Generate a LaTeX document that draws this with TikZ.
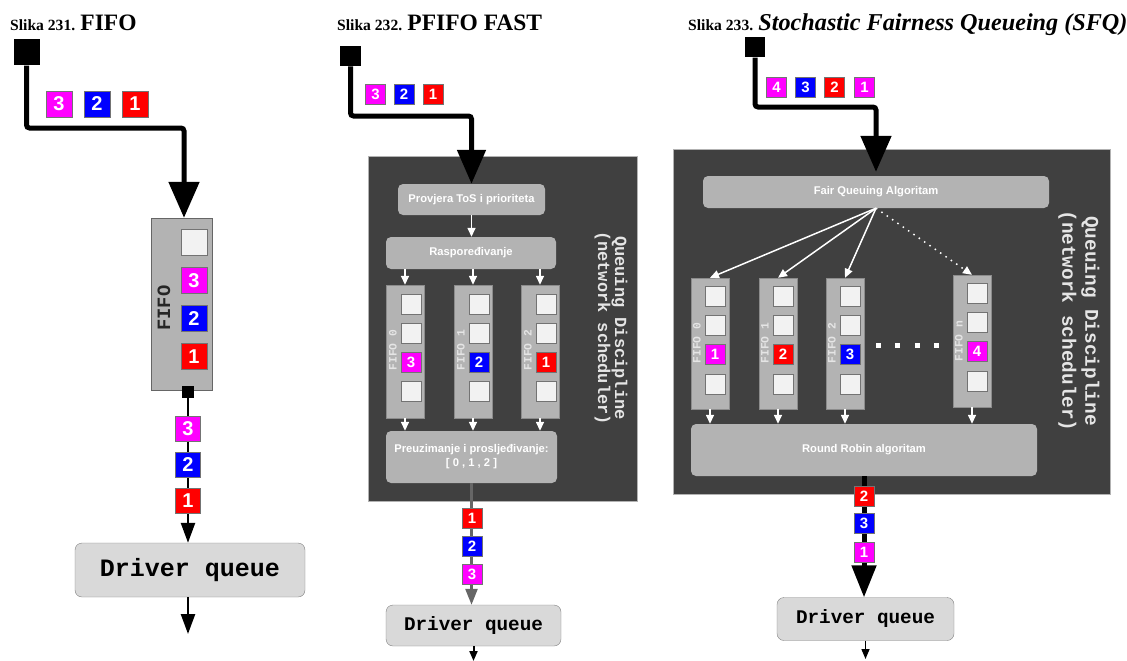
\documentclass[tikz,border=0pt]{standalone}
\usepackage{fontspec}
\setmainfont{Liberation Serif}
\setsansfont{Liberation Sans}
\setmonofont{Liberation Mono}
\usetikzlibrary{arrows.meta,positioning}
\newcommand\fsz[1]{\fontsize{#1}{#1}\selectfont}
\definecolor{pmag}{HTML}{FF00FF}
\definecolor{pblue}{HTML}{0000FF}
\definecolor{pred}{HTML}{FF0000}
\definecolor{slotc}{HTML}{F2F2F2}
\definecolor{boxgray}{HTML}{B3B3B3}
\definecolor{darkbg}{HTML}{404040}
\definecolor{drvc}{HTML}{D9D9D9}
\tikzset{
  src/.style={fill=black,inner sep=0,minimum size=#1},
  pkt/.style={draw=black!55,text=white,inner sep=0,minimum size=26pt,font=\sffamily\bfseries\fsz{20}},
  spkt/.style={pkt,minimum size=20pt,font=\sffamily\bfseries\fsz{15}},
  slot/.style={draw=black!55,fill=slotc,inner sep=0,minimum size=#1},
  col/.style={draw=black!45,fill=boxgray,inner sep=0,minimum width=38pt},
  qdisc/.style={draw=black!30,fill=darkbg,inner sep=0},
  algo/.style={fill=boxgray,rounded corners=5pt,inner sep=0,text=white,font=\sffamily\bfseries\fontsize{11.2}{14}\selectfont},
  drvq/.style={draw=black!50,fill=drvc,rounded corners=7pt,inner sep=0},
  wire/.style={line width=5pt,rounded corners=3pt},
  warrow/.style={draw=white,line width=1.5pt,-{Triangle[width=8pt,length=9pt]}},
  flabel/.style={rotate=90,text=black!10,font=\ttfamily\bfseries\fsz{11.3}},
  qlabel/.style={rotate=-90,align=center,text=black!10},
}
\begin{document}
\begin{tikzpicture}[x=1pt,y=-1pt]
\useasboundingbox (0,0) rectangle (1127,661);
% FIFO
\node[anchor=base west,inner sep=0] (t1) at (10,31) {\bfseries\fsz{15.6}Slika 231. {\fsz{23.5}FIFO}};
\node[src=26pt] (s1) at (26.5,52.5) {};
\coordinate (c1) at (184,128);
\node[draw=black!60,fill=boxgray,minimum width=61pt,minimum height=172pt] (fifo) at (181.5,304) {};
\draw[wire,-{Triangle[width=30pt,length=36pt]}] (s1.south) |- (c1) -- (c1 |- fifo.north);
\node[pkt,fill=pmag] (p13) at (59,104) {3};
\node[pkt,fill=pblue] (p12) at (97,104) {2};
\node[pkt,fill=pred] (p11) at (135,104) {1};
\node[slot=26pt] (q10) at (194,242.5) {};
\node[pkt,fill=pmag] (q13) at (194,280.5) {3};
\node[pkt,fill=pblue] (q12) at (194,318.5) {2};
\node[pkt,fill=pred] (q11) at (194,356.5) {1};
\node[rotate=90,text=black!85,font=\ttfamily\bfseries\fsz{18.8}] (fl1) at (164,308) {FIFO};
\node[src=12pt] (k1) at (188,391.5) {};
\node[drvq,minimum width=230pt,minimum height=54pt,font=\ttfamily\bfseries\fsz{25}] (dq1) at (190,570) {Driver queue};
\draw[line width=2.5pt,-{Triangle[width=14pt,length=20pt]}] (k1.south) -- (k1.south |- dq1.north);
\node[pkt,minimum size=25pt,fill=pmag] (r13) at (188,428.5) {3};
\node[pkt,minimum size=25pt,fill=pblue] (r12) at (188,465) {2};
\node[pkt,minimum size=25pt,fill=pred] (r11) at (188,500.5) {1};
\coordinate (o1) at (188,634);
\draw[line width=2.5pt,-{Triangle[width=14pt,length=20pt]}] (dq1.south -| o1) -- (o1);
% PFIFO FAST
\node[anchor=base west,inner sep=0] (t2) at (337,31) {\bfseries\fsz{15.6}Slika 232. {\fsz{23.5}PFIFO FAST}};
\node[qdisc,minimum width=269pt,minimum height=345pt] (qd2) at (502.5,328.5) {};
\node[src=20.5pt] (s2) at (350.5,56) {};
\coordinate (c2) at (471.5,116);
\node[algo,minimum width=147pt,minimum height=31pt] (tos) at (471.5,199.5) {Provjera ToS i prioriteta};
\draw[wire,-{Triangle[width=28pt,length=34pt]}] (s2.south) |- (c2) -- (tos.north);
\node[spkt,fill=pmag] (p23) at (375.5,94.5) {3};
\node[spkt,fill=pblue] (p22) at (404,94.5) {2};
\node[spkt,fill=pred] (p21) at (433,94.5) {1};
\node[algo,minimum width=170pt,minimum height=32pt] (ras) at (471,253) {Raspoređivanje};
\draw[warrow] (tos.south) -- (tos.south |- ras.north);
\node[col,minimum height=133pt] (f20) at (405,351.5) {};
\node[col,minimum height=133pt] (f21) at (473,351.5) {};
\node[col,minimum height=133pt] (f22) at (540,351.5) {};
\foreach \x/\c in {411/0,479/1,546/2}
  \foreach \y/\r in {304/1,333/2,391.5/4}
    \node[slot=20pt] (q2\c\r) at (\x,\y) {};
\node[spkt,fill=pmag] (q203) at (411,362) {3};
\node[spkt,fill=pblue] (q213) at (479,362) {2};
\node[spkt,fill=pred] (q223) at (546,362) {1};
\node[flabel] (l20) at (393,350) {FIFO 0};
\node[flabel] (l21) at (461,350) {FIFO 1};
\node[flabel] (l22) at (528,350) {FIFO 2};
\draw[warrow] (ras.south -| f20) -- (f20.north);
\draw[warrow] (ras.south -| f21) -- (f21.north);
\draw[warrow] (ras.south -| f22) -- (f22.north);
\node[algo,align=center,minimum width=171pt,minimum height=52pt] (pre) at (471.5,457) {Preuzimanje i prosljeđivanje:\\{}[ 0 , 1 , 2 ]};
\draw[warrow] (f20.south) -- (f20.south |- pre.north);
\draw[warrow] (f21.south) -- (f21.south |- pre.north);
\draw[warrow] (f22.south) -- (f22.south |- pre.north);
\node[qlabel,font=\ttfamily\bfseries\fontsize{17}{17}\selectfont] (ql2) at (611,328) {Queuing Discipline\\(network scheduler)};
\node[drvq,minimum width=175pt,minimum height=41pt,font=\ttfamily\bfseries\fsz{19.3}] (dq2) at (473.5,625.5) {Driver queue};
\draw[line width=2.5pt,draw=black!60,-{Triangle[width=12pt,length=16pt]}] (pre.south) -- (pre.south |- dq2.north);
\node[spkt,fill=pred] (r21) at (472,518.5) {1};
\node[spkt,fill=pblue] (r22) at (472,546.5) {2};
\node[spkt,fill=pmag] (r23) at (472,574.5) {3};
\coordinate (o2) at (473.5,661);
\draw[line width=2pt,-{Triangle[width=8pt,length=10pt]}] (dq2.south) -- (o2);
% SFQ
\node[anchor=base west,inner sep=0] (t3) at (688,31) {\bfseries\fsz{15.6}Slika 233. {\itshape\fsz{24.2}Stochastic Fairness Queueing (SFQ)}};
\node[qdisc,minimum width=437pt,minimum height=345pt] (qd3) at (891.5,321.5) {};
\node[src=20pt] (s3) at (755,47.5) {};
\coordinate (c3) at (876,107);
\node[algo,minimum width=346pt,minimum height=32pt] (faq) at (876,192) {Fair Queuing Algoritam};
\draw[wire,shorten >=4pt,-{Triangle[width=30pt,length=36pt]}] (s3.south) |- (c3) -- (faq.north);
\node[spkt,fill=pmag] (p34) at (776.5,87.5) {4};
\node[spkt,fill=pblue] (p33) at (805.5,87.5) {3};
\node[spkt,fill=pred] (p32) at (834.5,87.5) {2};
\node[spkt,fill=pmag] (p31) at (864.5,87.5) {1};
\node[col,minimum height=131pt] (f30) at (710,343.5) {};
\node[col,minimum height=131pt] (f31) at (778,343.5) {};
\node[col,minimum height=131pt] (f32) at (845,343.5) {};
\node[col,minimum height=132pt] (f3n) at (972,341) {};
\foreach \x/\c in {715/0,783/1,850/2}
  \foreach \y/\r in {296.5/1,325/2,384/4}
    \node[slot=20pt] (q3\c\r) at (\x,\y) {};
\foreach \y/\r in {293.5/1,322/2,381/4}
  \node[slot=20pt] (q3n\r) at (977,\y) {};
\node[spkt,fill=pmag] (q303) at (715,354) {1};
\node[spkt,fill=pred] (q313) at (783,354) {2};
\node[spkt,fill=pblue] (q323) at (850,354) {3};
\node[spkt,fill=pmag] (q3n3) at (977,351) {4};
\node[flabel] (l30) at (697,343) {FIFO 0};
\node[flabel] (l31) at (765,343) {FIFO 1};
\node[flabel] (l32) at (832,343) {FIFO 2};
\node[flabel] (l3n) at (959,341) {FIFO n};
\foreach \x [count=\i] in {878,897,917,936}
  \node[fill=white,inner sep=0,minimum size=5pt] (dot\i) at (\x,345) {};
\draw[warrow] (faq.south) -- (f30.north);
\draw[warrow] (faq.south) -- (f31.north);
\draw[warrow] (faq.south) -- (f32.north);
\draw[warrow,dash pattern=on 1.5pt off 5pt] (faq.south) -- (f3n.north);
\node[algo,minimum width=346pt,minimum height=52pt] (rr) at (864,450) {Round Robin algoritam};
\draw[warrow] (f30.south) -- (f30.south |- rr.north);
\draw[warrow] (f31.south) -- (f31.south |- rr.north);
\draw[warrow] (f32.south) -- (f32.south |- rr.north);
\draw[warrow] (f3n.south) -- (f3n.south |- rr.north);
\node[qlabel,font=\ttfamily\bfseries\fontsize{19.4}{23}\selectfont] (ql3) at (1079,321) {Queuing Discipline\\(network scheduler)};
\node[drvq,minimum width=177pt,minimum height=43pt,font=\ttfamily\bfseries\fsz{19.3}] (dq3) at (865.5,619) {Driver queue};
\draw[wire,-{Triangle[width=24pt,length=32pt]}] (rr.south) -- (rr.south |- dq3.north);
\node[spkt,fill=pred] (r32) at (864,496) {2};
\node[spkt,fill=pblue] (r33) at (864,523.5) {3};
\node[spkt,fill=pmag] (r31) at (864,552) {1};
\coordinate (o3) at (865.5,659);
\draw[line width=1.5pt,-{Triangle[width=8pt,length=10pt]}] (dq3.south) -- (o3);
\end{tikzpicture}
\end{document}
